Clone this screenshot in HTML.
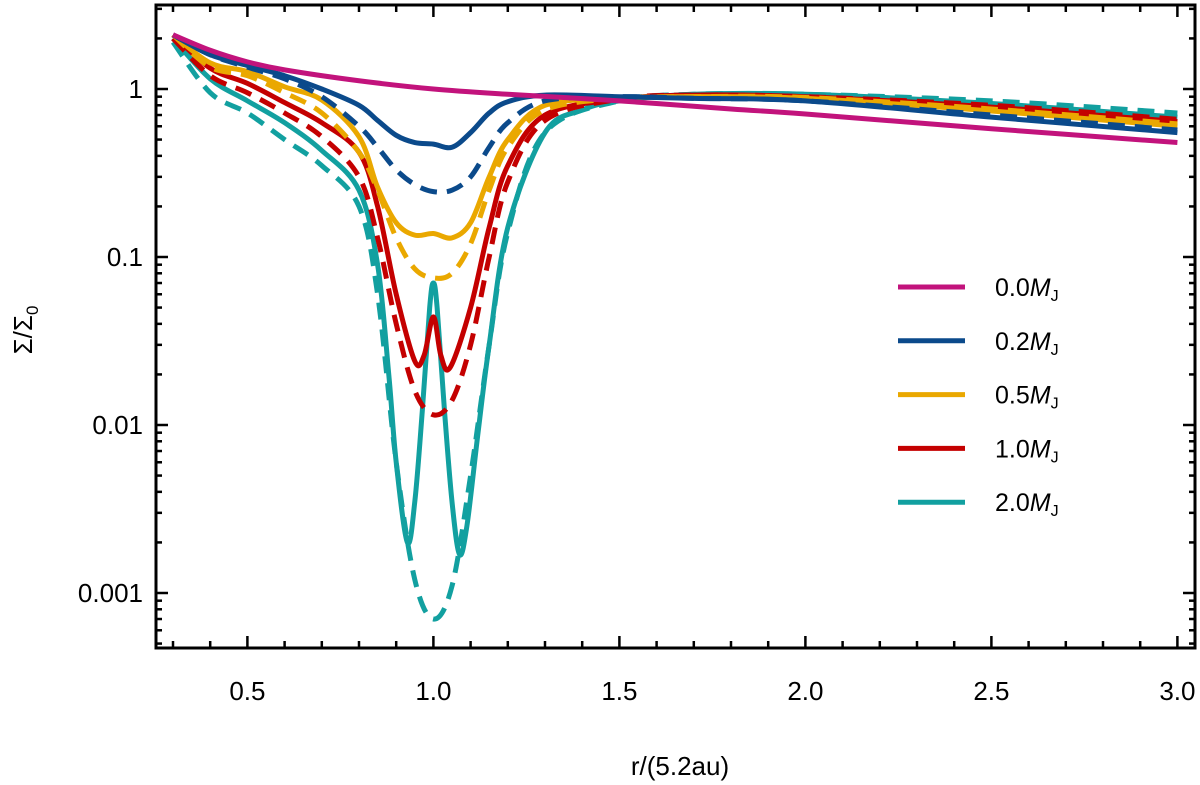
<!DOCTYPE html>
<html><head><meta charset="utf-8"><style>
body{margin:0;background:#fff;}
svg{display:block;font-family:"Liberation Sans",Arial,sans-serif;}
</style></head><body>
<svg id="chart" width="1200" height="785"></svg>
<script>
const xs0=[0.3,0.4,0.5,0.6,0.8,1.0,1.2,1.5,1.8,2.0,2.5,3.0];
const ys0=[2.1,1.7,1.45,1.3,1.12,1.0,0.93,0.85,0.76,0.71,0.58,0.48];
const xs02=[0.3,0.4,0.5,0.6,0.7,0.8,0.85,0.9,0.95,1.0,1.05,1.1,1.15,1.2,1.3,1.5,1.7,2.0,2.5,3.0];
const ys02s=[2.1,1.6,1.38,1.2,1.0,0.8,0.65,0.53,0.48,0.47,0.45,0.55,0.72,0.84,0.92,0.9,0.88,0.85,0.68,0.55];
const ys02d=[2.1,1.6,1.35,1.15,0.9,0.6,0.45,0.33,0.27,0.245,0.25,0.3,0.45,0.63,0.85,0.9,0.88,0.85,0.7,0.57];
const ys05s=[2.1,1.43,1.27,1.03,0.86,0.52,0.26,0.16,0.135,0.138,0.13,0.16,0.3,0.5,0.8,0.88,0.9,0.88,0.74,0.6];
const ys05d=[2.1,1.35,1.2,0.95,0.72,0.42,0.25,0.13,0.085,0.075,0.08,0.12,0.25,0.45,0.75,0.88,0.9,0.89,0.76,0.62];
const xs1=[0.3,0.4,0.5,0.6,0.7,0.8,0.85,0.9,0.95,0.975,1.0,1.02,1.045,1.1,1.15,1.2,1.3,1.5,1.7,2.0,2.5,3.0];
const ys1s=[2.1,1.33,1.08,0.83,0.63,0.42,0.2,0.06,0.024,0.026,0.044,0.026,0.022,0.05,0.15,0.35,0.7,0.87,0.92,0.9,0.78,0.64];
const xs1d=[0.3,0.4,0.5,0.6,0.7,0.8,0.85,0.9,0.95,1.0,1.05,1.1,1.15,1.2,1.3,1.5,1.7,2.0,2.5,3.0];
const ys1d=[2.0,1.2,0.95,0.72,0.52,0.3,0.13,0.04,0.016,0.0115,0.014,0.03,0.1,0.28,0.65,0.87,0.92,0.9,0.8,0.66];
const xs2=[0.3,0.4,0.5,0.6,0.7,0.8,0.85,0.88,0.9,0.93,0.95,0.97,0.99,1.0,1.01,1.03,1.05,1.07,1.09,1.12,1.15,1.2,1.3,1.4,1.5,1.7,2.0,2.5,3.0];
const ys2s=[2.0,1.15,0.85,0.63,0.43,0.25,0.09,0.02,0.006,0.002,0.0035,0.012,0.05,0.07,0.05,0.012,0.0035,0.0017,0.0025,0.009,0.03,0.15,0.55,0.75,0.85,0.93,0.93,0.82,0.68];
const xs2d=[0.3,0.4,0.5,0.6,0.7,0.8,0.85,0.9,0.95,1.0,1.05,1.1,1.15,1.2,1.3,1.5,1.7,2.0,2.5,3.0];
const ys2d=[1.9,0.95,0.72,0.5,0.35,0.2,0.06,0.006,0.0012,0.0007,0.0011,0.005,0.03,0.14,0.55,0.85,0.93,0.93,0.85,0.72];
const legendLabels=["0.0","0.2","0.5","1.0","2.0"];
const colors=["#c2137c","#0b4a8b","#eaa800","#c40000","#12a0a0"];
const xTicks=[0.5,1.0,1.5,2.0,2.5,3.0];
const yTicks=[1,0.1,0.01,0.001];
const yTickLabels=["1","0.1","0.01","0.001"];

const L=156,R=1195,T=5,B=648;
const X=v=>173+(v-0.3)*372;
const Y=v=>89-Math.log10(v)*168;
const svg=document.getElementById('chart');
const NS='http://www.w3.org/2000/svg';
function mk(tag,attrs,parent){const e=document.createElementNS(NS,tag);for(const k in attrs)e.setAttribute(k,attrs[k]);(parent||svg).appendChild(e);return e;}
function path(xa,ya){
  const p=xa.map((x,i)=>[X(x),Y(ya[i])]);
  let d='M'+p[0][0]+','+p[0][1];
  for(let i=0;i<p.length-1;i++){
    const p0=p[i-1]||p[i],p1=p[i],p2=p[i+1],p3=p[i+2]||p2;
    const c1=[p1[0]+(p2[0]-p0[0])/6,p1[1]+(p2[1]-p0[1])/6];
    const c2=[p2[0]-(p3[0]-p1[0])/6,p2[1]-(p3[1]-p1[1])/6];
    d+=`C${c1[0]},${c1[1]} ${c2[0]},${c2[1]} ${p2[0]},${p2[1]}`;
  }
  return d;
}
const clip=mk('clipPath',{id:'pc'});mk('rect',{x:L,y:T,width:R-L,height:B-T},clip);
const g=mk('g',{'clip-path':'url(#pc)'});
const series=[
 [xs2,ys2s,4,null],[xs2d,ys2d,4,'17,10'],
 [xs1,ys1s,3,null],[xs1d,ys1d,3,'17,10'],
 [xs02,ys05s,2,null],[xs02,ys05d,2,'17,10'],
 [xs02,ys02s,1,null],[xs02,ys02d,1,'17,10'],
 [xs0,ys0,0,null]
];
series.forEach((s,i)=>{
  const e=mk('path',{d:path(s[0],s[1]),fill:'none',stroke:colors[s[2]],'stroke-width':5,'stroke-linejoin':'round'},g);
  if(s[3])e.setAttribute('stroke-dasharray',s[3]);
  
  
});
const fr=mk('rect',{x:L,y:T,width:R-L,height:B-T,fill:'none',stroke:'#000','stroke-width':3});


for(let k=3;k<=30;k++){
  const v=k/10,x=X(v),maj=k%5===0,len=maj?12:7;
  if(x>R-2)continue;
  mk('line',{x1:x,y1:B,x2:x,y2:B-len,stroke:'#000','stroke-width':2.5});
  mk('line',{x1:x,y1:T,x2:x,y2:T+len,stroke:'#000','stroke-width':2.5});
}
xTicks.forEach(v=>{
  const t=mk('text',{x:X(v),y:700,'font-size':26,'text-anchor':'middle'});
  t.textContent=v.toFixed(1);
  
  
});
for(let e=-4;e<=0;e++){
  for(let m=1;m<=9;m++){
    const v=m*Math.pow(10,e),y=Y(v);
    if(y<T+1||y>B-1)continue;
    const len=m===1?12:6;
    mk('line',{x1:L,y1:y,x2:L+len,y2:y,stroke:'#000','stroke-width':2.5});
    mk('line',{x1:R,y1:y,x2:R-len,y2:y,stroke:'#000','stroke-width':2.5});
  }
}
yTicks.forEach((v,i)=>{
  const t=mk('text',{x:143,y:Y(v)+9,'font-size':26,'text-anchor':'end'});
  t.textContent=yTickLabels[i];
  
  
});
const xt=mk('text',{x:680,y:775,'font-size':26,'text-anchor':'middle'});
xt.textContent='r/(5.2au)';


const yt=mk('text',{x:0,y:0,'font-size':26,'text-anchor':'middle',transform:'translate(32,330) rotate(-90)'});
yt.innerHTML='Σ/Σ<tspan font-size="17" dy="6">0</tspan>';


legendLabels.forEach((lab,i)=>{
  const y=287+i*53.8;
  const lg=mk('g',{});
  
  
  mk('line',{x1:898,y1:y,x2:965,y2:y,stroke:colors[i],'stroke-width':5},lg);
  const t=mk('text',{x:995,y:y+9,'font-size':25},lg);
  t.innerHTML=lab+'<tspan font-style="italic">M</tspan><tspan font-size="16" dy="5">J</tspan>';
});
</script>
</body></html>
